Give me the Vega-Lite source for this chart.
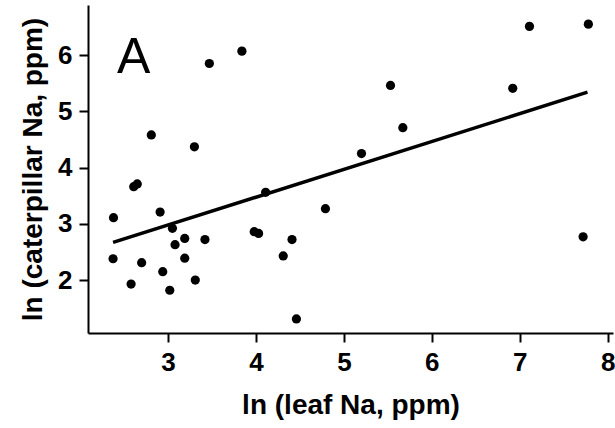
{
  "$schema": "https://vega.github.io/schema/vega-lite/v6.json",
  "width": 525,
  "height": 328,
  "autosize": {"type": "none"},
  "padding": {"left": 88, "top": 5, "right": 2, "bottom": 95},
  "background": "white",
  "config": {
    "view": {"stroke": null},
    "axis": {
      "domainColor": "black",
      "domainWidth": 2,
      "tickColor": "black",
      "tickWidth": 2,
      "tickSize": 9,
      "grid": false,
      "labelFont": "Liberation Sans",
      "labelFontWeight": "bold",
      "labelFontSize": 26,
      "labelColor": "black",
      "labelOverlap": false,
      "labelBound": false,
      "titleFont": "Liberation Sans",
      "titleFontWeight": "bold",
      "titleFontSize": 28,
      "titleColor": "black"
    }
  },
  "datasets": {
    "points": [
      {"leaf": 2.38, "cat": 3.11},
      {"leaf": 2.375, "cat": 2.38},
      {"leaf": 2.58, "cat": 1.93},
      {"leaf": 2.61, "cat": 3.66},
      {"leaf": 2.65, "cat": 3.71},
      {"leaf": 2.70, "cat": 2.31},
      {"leaf": 2.81, "cat": 4.58},
      {"leaf": 2.91, "cat": 3.21},
      {"leaf": 2.94, "cat": 2.15},
      {"leaf": 3.02, "cat": 1.82},
      {"leaf": 3.05, "cat": 2.92},
      {"leaf": 3.08, "cat": 2.63},
      {"leaf": 3.19, "cat": 2.74},
      {"leaf": 3.19, "cat": 2.39},
      {"leaf": 3.30, "cat": 4.37},
      {"leaf": 3.31, "cat": 2.00},
      {"leaf": 3.42, "cat": 2.72},
      {"leaf": 3.47, "cat": 5.85},
      {"leaf": 3.84, "cat": 6.07},
      {"leaf": 3.98, "cat": 2.86},
      {"leaf": 4.03, "cat": 2.83},
      {"leaf": 4.11, "cat": 3.56},
      {"leaf": 4.31, "cat": 2.43},
      {"leaf": 4.41, "cat": 2.72},
      {"leaf": 4.46, "cat": 1.31},
      {"leaf": 4.79, "cat": 3.27},
      {"leaf": 5.20, "cat": 4.25},
      {"leaf": 5.53, "cat": 5.46},
      {"leaf": 5.67, "cat": 4.71},
      {"leaf": 6.92, "cat": 5.41},
      {"leaf": 7.11, "cat": 6.51},
      {"leaf": 7.78, "cat": 6.55},
      {"leaf": 7.72, "cat": 2.77}
    ],
    "fit": [
      {"leaf": 2.375, "cat": 2.67},
      {"leaf": 7.77, "cat": 5.34}
    ],
    "panel": [
      {"label": "A", "leaf": 2.61, "cat": 5.675}
    ]
  },
  "layer": [
    {
      "data": {"name": "points"},
      "mark": {"type": "circle", "size": 85, "color": "black", "opacity": 1},
      "encoding": {
        "x": {
          "field": "leaf", "type": "quantitative",
          "scale": {"domain": [2.09, 8.06], "nice": false, "zero": false},
          "axis": {"title": "ln (leaf Na, ppm)", "values": [3, 4, 5, 6, 7, 8], "format": "d", "labelPadding": 7, "titlePadding": 16}
        },
        "y": {
          "field": "cat", "type": "quantitative",
          "scale": {"domain": [1.06, 6.89], "nice": false, "zero": false},
          "axis": {"title": "ln (caterpillar Na, ppm)", "values": [2, 3, 4, 5, 6], "format": "d", "labelPadding": 7, "titlePadding": 10}
        }
      }
    },
    {
      "data": {"name": "fit"},
      "mark": {"type": "line", "color": "black", "strokeWidth": 3.5},
      "encoding": {
        "x": {"field": "leaf", "type": "quantitative"},
        "y": {"field": "cat", "type": "quantitative"}
      }
    },
    {
      "data": {"name": "panel"},
      "mark": {"type": "text", "font": "Liberation Sans", "fontSize": 50, "fontWeight": "normal", "color": "black", "align": "center", "baseline": "alphabetic"},
      "encoding": {
        "x": {"field": "leaf", "type": "quantitative"},
        "y": {"field": "cat", "type": "quantitative"},
        "text": {"field": "label"}
      }
    }
  ]
}
